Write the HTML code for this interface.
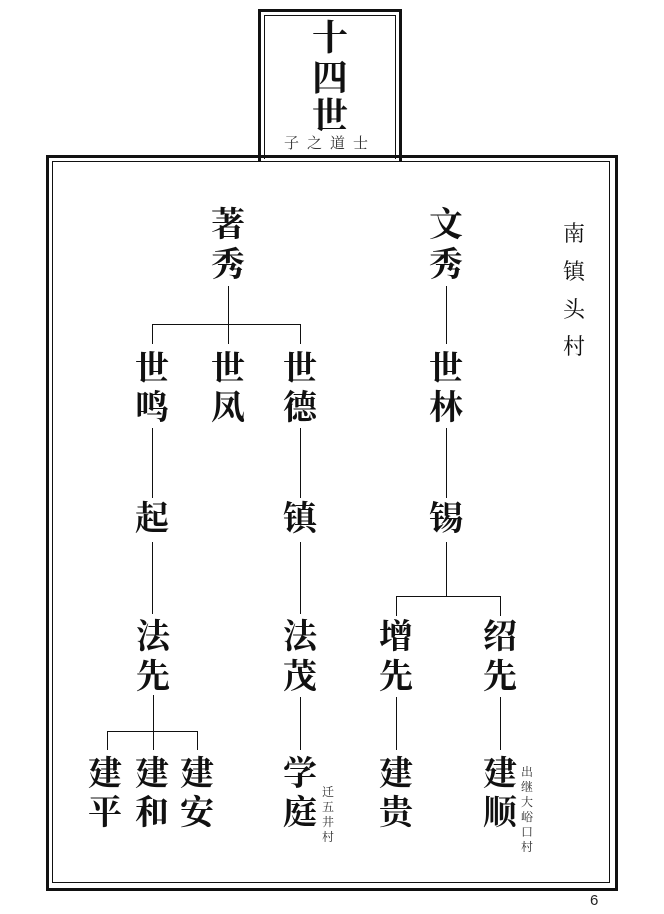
<!DOCTYPE html>
<html><head><meta charset="utf-8"><style>
body{margin:0;background:#fff;width:664px;height:914px;position:relative;overflow:hidden;font-family:"Liberation Serif","Noto Serif CJK SC",serif;}
.c{position:absolute;width:44px;text-align:center;font-size:34px;line-height:40px;font-weight:bold;color:#111;}
.l{position:absolute;background:#111;}
.s{position:absolute;font-size:12px;line-height:15px;width:14px;text-align:center;color:#333;font-family:"Liberation Serif","Noto Serif CJK SC",serif;}
</style></head><body>
<!-- top box -->
<div style="position:absolute;left:258px;top:9px;width:138px;height:150px;border:3px solid #111;border-bottom:none;"></div>
<div style="position:absolute;left:264px;top:15px;width:130px;height:143px;border:1px solid #111;border-bottom:none;"></div>
<div class="c" style="left:308px;top:18px;font-size:36px">十</div>
<div class="c" style="left:308px;top:58px;font-size:36px">四</div>
<div class="c" style="left:308px;top:96px;font-size:36px">世</div>
<div style="position:absolute;left:266px;top:132px;width:128px;text-align:center;font-size:15px;letter-spacing:8px;color:#333;font-family:'Noto Serif CJK SC',serif;">子之道士</div>
<!-- main frame -->
<div style="position:absolute;left:46px;top:155px;width:566px;height:730px;border:3px solid #111;"></div>
<div style="position:absolute;left:52px;top:161px;width:556px;height:720px;border:1px solid #111;"></div>
<div style="position:absolute;left:590px;top:892px;font-size:15px;font-family:'Liberation Sans',sans-serif;color:#222">6</div>
<!-- 南镇头村 -->
<div class="c" style="left:552px;top:214px;font-size:22px;font-weight:normal">南</div>
<div class="c" style="left:552px;top:252px;font-size:22px;font-weight:normal">镇</div>
<div class="c" style="left:552px;top:290px;font-size:22px;font-weight:normal">头</div>
<div class="c" style="left:552px;top:327px;font-size:22px;font-weight:normal">村</div>
<!-- names -->
<div class="c" style="left:206px;top:206px">著</div><div class="c" style="left:206px;top:246px">秀</div>
<div class="c" style="left:424px;top:206px">文</div><div class="c" style="left:424px;top:246px">秀</div>
<div class="c" style="left:130px;top:350px">世</div><div class="c" style="left:130px;top:389px">鸣</div>
<div class="c" style="left:206px;top:350px">世</div><div class="c" style="left:206px;top:389px">凤</div>
<div class="c" style="left:278px;top:350px">世</div><div class="c" style="left:278px;top:389px">德</div>
<div class="c" style="left:424px;top:350px">世</div><div class="c" style="left:424px;top:389px">林</div>
<div class="c" style="left:130px;top:500px">起</div>
<div class="c" style="left:278px;top:500px">镇</div>
<div class="c" style="left:424px;top:500px">锡</div>
<div class="c" style="left:131px;top:618px">法</div><div class="c" style="left:131px;top:658px">先</div>
<div class="c" style="left:278px;top:618px">法</div><div class="c" style="left:278px;top:658px">茂</div>
<div class="c" style="left:374px;top:618px">增</div><div class="c" style="left:374px;top:658px">先</div>
<div class="c" style="left:478px;top:618px">绍</div><div class="c" style="left:478px;top:658px">先</div>
<div class="c" style="left:83px;top:755px">建</div><div class="c" style="left:83px;top:794px">平</div>
<div class="c" style="left:130px;top:755px">建</div><div class="c" style="left:130px;top:794px">和</div>
<div class="c" style="left:175px;top:755px">建</div><div class="c" style="left:175px;top:794px">安</div>
<div class="c" style="left:278px;top:755px">学</div><div class="c" style="left:278px;top:794px">庭</div>
<div class="c" style="left:374px;top:755px">建</div><div class="c" style="left:374px;top:794px">贵</div>
<div class="c" style="left:478px;top:755px">建</div><div class="c" style="left:478px;top:794px">顺</div>
<div class="s" style="left:321px;top:785px">迁<br>五<br>井<br>村</div>
<div class="s" style="left:520px;top:765px">出<br>继<br>大<br>峪<br>口<br>村</div>
<!-- lines -->
<div class="l" style="left:228px;top:286px;width:1px;height:39px"></div>
<div class="l" style="left:152px;top:324px;width:149px;height:1px"></div>
<div class="l" style="left:152px;top:324px;width:1px;height:20px"></div>
<div class="l" style="left:228px;top:324px;width:1px;height:20px"></div>
<div class="l" style="left:300px;top:324px;width:1px;height:20px"></div>
<div class="l" style="left:446px;top:286px;width:1px;height:58px"></div>
<div class="l" style="left:152px;top:428px;width:1px;height:70px"></div>
<div class="l" style="left:300px;top:428px;width:1px;height:70px"></div>
<div class="l" style="left:446px;top:428px;width:1px;height:70px"></div>
<div class="l" style="left:152px;top:542px;width:1px;height:72px"></div>
<div class="l" style="left:300px;top:542px;width:1px;height:72px"></div>
<div class="l" style="left:446px;top:542px;width:1px;height:54px"></div>
<div class="l" style="left:396px;top:596px;width:105px;height:1px"></div>
<div class="l" style="left:396px;top:596px;width:1px;height:20px"></div>
<div class="l" style="left:500px;top:596px;width:1px;height:20px"></div>
<div class="l" style="left:153px;top:695px;width:1px;height:37px"></div>
<div class="l" style="left:107px;top:731px;width:91px;height:1px"></div>
<div class="l" style="left:107px;top:731px;width:1px;height:19px"></div>
<div class="l" style="left:153px;top:731px;width:1px;height:19px"></div>
<div class="l" style="left:197px;top:731px;width:1px;height:19px"></div>
<div class="l" style="left:300px;top:697px;width:1px;height:53px"></div>
<div class="l" style="left:396px;top:697px;width:1px;height:53px"></div>
<div class="l" style="left:500px;top:697px;width:1px;height:53px"></div>
</body></html>
